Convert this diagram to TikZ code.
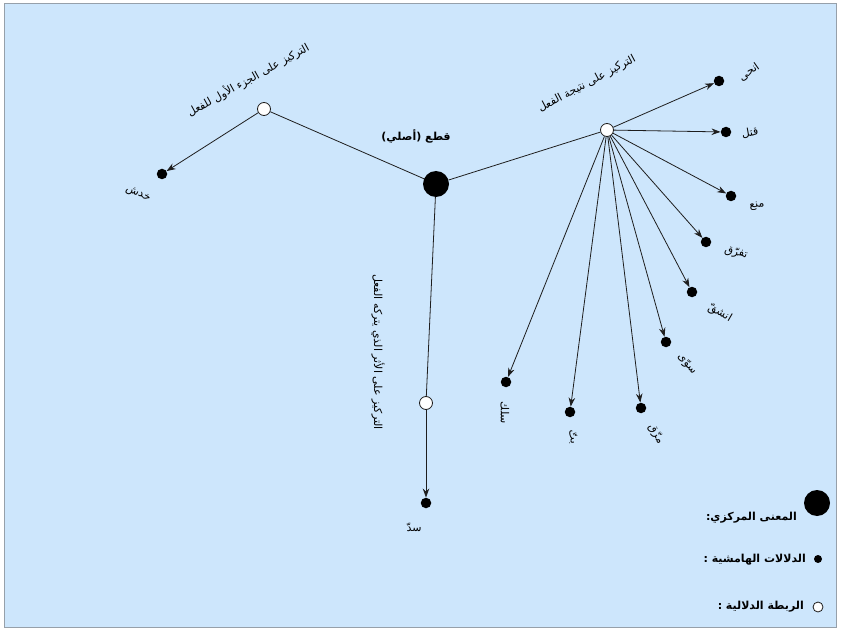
\documentclass[tikz,border=0pt]{standalone}
\usepackage{fontspec}
\usetikzlibrary{arrows.meta}
\TeXXeTstate=1
\newfontfamily\arabicfont[Script=Arabic]{DejaVu Sans}
\definecolor{paper}{RGB}{205,230,252}
\definecolor{frame}{RGB}{150,160,170}
\definecolor{ink}{RGB}{30,30,30}
\newcommand{\ar}[1]{\arabicfont\beginR #1\endR}
\tikzset{
  hub/.style={circle, draw=ink, fill=white, line width=0.8pt, minimum size=13pt, inner sep=0pt},
  leaf/.style={circle, fill=black, minimum size=10.5pt, inner sep=0pt},
  core/.style={circle, fill=black, minimum size=26pt, inner sep=0pt},
  link/.style={draw=ink, line width=0.8pt},
  spoke/.style={draw=ink, line width=0.8pt, -{Stealth[length=9pt,width=6.5pt]}},
  lbl/.style={font=\fontsize{11}{13}\selectfont, inner sep=1pt},
  blbl/.style={font=\fontsize{11}{13}\selectfont\bfseries, inner sep=1pt}
}
\begin{document}
\begin{tikzpicture}[x=1pt, y=-1pt]
  \useasboundingbox (0,0) rectangle (841,631);
  \fill[white] (0,0) rectangle (841,631);
  \draw[frame, fill=paper, line width=1pt] (4,4) rectangle (836,627);

  % central meaning and the three semantic links
  \node[core] (core) at (436,184) {};
  \node[hub] (hl) at (264,109) {};
  \node[hub] (hr) at (607,130) {};
  \node[hub] (hb) at (426,403) {};
  \draw[link] (core) -- (hl);
  \draw[link] (core) -- (hr);
  \draw[link] (core) -- (hb);

  % peripheral meanings
  \node[leaf] (khadash) at (162,174) {};
  \node[leaf] (sadda) at (426,503) {};
  \node[leaf] (anha) at (719,81) {};
  \node[leaf] (qatala) at (726,132) {};
  \node[leaf] (manaa) at (731,196) {};
  \node[leaf] (tafarraqa) at (706,242) {};
  \node[leaf] (inshaqqa) at (692,292) {};
  \node[leaf] (sawwa) at (666,342) {};
  \node[leaf] (mazzaqa) at (641,408) {};
  \node[leaf] (batta) at (570,412) {};
  \node[leaf] (salaka) at (506,382) {};

  \draw[spoke] (hl) -- (khadash);
  \draw[spoke] (hb) -- (sadda);
  \foreach \t in {anha,qatala,manaa,tafarraqa,inshaqqa,sawwa,mazzaqa,batta,salaka}
    \draw[spoke] (hr) -- (\t);

  % labels
  \node[blbl] (lcore) at (416,136) {\ar{قطع (أصلي)}};
  \node[lbl, rotate=29] (lhl) at (248,80) {\ar{التركيز على الجزء الأول للفعل}};
  \node[lbl, rotate=28] (lhr) at (587,84) {\ar{التركيز على نتيجة الفعل}};
  \node[lbl, rotate=-90] (lhb) at (378,352) {\ar{التركيز على الأثر الذي يتركه الفعل}};

  \node[lbl, rotate=-25] (lkhadash) at (138,194) {\ar{خدش}};
  \node[lbl] (lsadda) at (414,527) {\ar{سدّ}};
  \node[lbl, rotate=35] (lanha) at (749,72) {\ar{انحى}};
  \node[lbl, rotate=10] (lqatala) at (750,133) {\ar{قتل}};
  \node[lbl, rotate=10] (lmanaa) at (757,206) {\ar{منع}};
  \node[lbl, rotate=-15] (ltafarraqa) at (736,253) {\ar{تفرّق}};
  \node[lbl, rotate=-30] (linshaqqa) at (720,313) {\ar{انشقّ}};
  \node[lbl, rotate=-50] (lsawwa) at (687,364) {\ar{سوّى}};
  \node[lbl, rotate=-60] (lmazzaqa) at (656,434) {\ar{مزّق}};
  \node[lbl, rotate=-80] (lbatta) at (573,437) {\ar{بتّ}};
  \node[lbl, rotate=-90] (lsalaka) at (505,413) {\ar{سلك}};

  % legend
  \node[core] (kcore) at (817,503) {};
  \node[leaf, minimum size=8pt] (kleaf) at (818,559) {};
  \node[hub, minimum size=10pt] (khub) at (818,607) {};
  \node[blbl, anchor=east] (tcore) at (798,518) {\ar{المعنى المركزي:}};
  \node[blbl, anchor=east] (tleaf) at (807,560) {\ar{الدلالات الهامشية :}};
  \node[blbl, anchor=east] (thub) at (805,607) {\ar{الربطة الدلالية :}};
\end{tikzpicture}
\end{document}
